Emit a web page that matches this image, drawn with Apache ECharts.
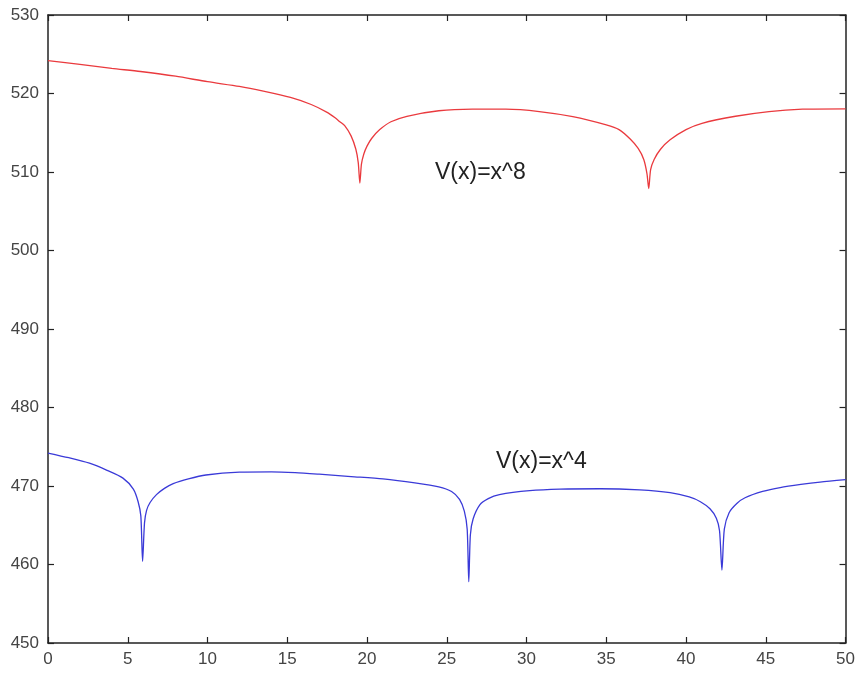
<!DOCTYPE html>
<html>
<head>
<meta charset="utf-8">
<script src="https://cdn.jsdelivr.net/npm/echarts@6/dist/echarts.min.js"></script>
<style>
  html, body { margin: 0; padding: 0; background: #fff; }
  #chart { width: 858px; height: 673px; }
</style>
</head>
<body>
<div id="chart"></div>
<script>
// Potential V(x) = x^8 curve
const x8X = [0, 2, 4, 5.8, 8, 10, 12, 13.5, 15.2, 16.5, 17.5, 18.0, 18.3, 18.6, 19.0, 19.3, 19.45, 19.55,
  19.65, 19.8, 20.0, 20.3, 20.8, 21.5, 22.5, 24.5, 26.6, 28.7, 30.8, 32.9, 35.0, 35.8, 36.5, 37.0, 37.35, 37.55, 37.66,
  37.78, 38.0, 38.4, 39.0, 40.0, 41.0, 43.1, 45.2, 47.3, 50];
const x8Y = [524.2, 523.7, 523.2, 522.8, 522.2, 521.5, 520.9, 520.3, 519.5, 518.6, 517.6, 516.9, 516.4, 515.9, 514.6, 512.9, 511.2, 508.6,
  511.0, 512.3, 513.3, 514.3, 515.4, 516.4, 517.1, 517.8, 518.0, 518.0, 517.7, 517.05, 516.0, 515.4, 514.2, 513.0, 511.6, 509.8, 507.9,
  510.3, 511.6, 512.9, 514.1, 515.4, 516.2, 517.1, 517.7, 518.0, 518.05];

// Potential V(x) = x^4 curve
const x4X = [0, 1.3, 2.6, 3.7, 4.7, 5.35, 5.65, 5.82, 5.93, 6.05, 6.18, 6.4, 6.8, 7.3, 7.85, 8.8, 9.9, 12, 14, 15.5, 17,
  19, 21, 23, 24.5, 25.3, 25.8, 26.1, 26.28, 26.38, 26.48, 26.65, 27.07, 27.6, 28.3, 30.2, 32.1, 34.6, 37.1, 39.0, 40.2,
  40.9, 41.5, 41.9, 42.1, 42.25, 42.4, 42.7, 43.2, 43.7, 44.8, 45.9, 47.2, 48.4, 50];
const x4Y = [474.2, 473.6, 472.9, 472.0, 471.0, 469.6, 468.0, 466.2, 460.4, 465.3, 466.9, 467.9, 468.9, 469.7, 470.3, 470.9, 471.4, 471.76, 471.8, 471.7, 471.5,
  471.2, 470.9, 470.4, 469.9, 469.3, 468.3, 466.8, 464.5, 457.8, 463.8, 465.8, 467.6, 468.4, 468.9, 469.4, 469.6, 469.65, 469.5, 469.15, 468.6,
  468.0, 467.1, 465.9, 464.3, 459.3, 464.5, 466.6, 467.8, 468.5, 469.3, 469.8, 470.2, 470.5, 470.8];

const xTicks = [0, 5, 10, 15, 20, 25, 30, 35, 40, 45, 50];
const yTicks = [450, 460, 470, 480, 490, 500, 510, 520, 530];

const curveLabels = ['V(x)=x^8', 'V(x)=x^4'];

const pairs = (xs, ys) => xs.map((x, i) => [x, ys[i]]);

const axisLine = { show: true, onZero: false, lineStyle: { color: '#222', width: 1.5 } };
const tickIn = { show: true, inside: true, length: 6, lineStyle: { color: '#222', width: 1.2 } };
const labelFont = { color: '#444', fontSize: 17, fontFamily: 'Liberation Sans, Arial, sans-serif' };

const chart = echarts.init(document.getElementById('chart'), null, { renderer: 'canvas' });
chart.setOption({
  animation: false,
  backgroundColor: '#fff',
  grid: { left: 48, right: 12, top: 15, bottom: 30, containLabel: false },
  xAxis: [
    {
      type: 'value', position: 'bottom',
      min: xTicks[0], max: xTicks[xTicks.length - 1], interval: 5,
      axisLine: axisLine, axisTick: tickIn, splitLine: { show: false },
      axisLabel: Object.assign({ margin: 8 }, labelFont)
    },
    {
      type: 'value', position: 'top',
      min: xTicks[0], max: xTicks[xTicks.length - 1], interval: 5,
      axisLine: axisLine, axisTick: tickIn, splitLine: { show: false },
      axisLabel: { show: false }
    }
  ],
  yAxis: [
    {
      type: 'value', position: 'left',
      min: yTicks[0], max: yTicks[yTicks.length - 1], interval: 10,
      axisLine: axisLine, axisTick: tickIn, splitLine: { show: false },
      axisLabel: Object.assign({ margin: 9 }, labelFont)
    },
    {
      type: 'value', position: 'right',
      min: yTicks[0], max: yTicks[yTicks.length - 1], interval: 10,
      axisLine: axisLine, axisTick: tickIn, splitLine: { show: false },
      axisLabel: { show: false }
    }
  ],
  series: [
    {
      name: curveLabels[0], type: 'line', xAxisIndex: 0, yAxisIndex: 0,
      data: pairs(x8X, x8Y), showSymbol: false, smooth: 0.25,
      lineStyle: { color: '#ea3a3e', width: 1.3 }
    },
    {
      name: curveLabels[1], type: 'line', xAxisIndex: 0, yAxisIndex: 0,
      data: pairs(x4X, x4Y), showSymbol: false, smooth: 0.25,
      lineStyle: { color: '#3a3ad8', width: 1.3 }
    }
  ],
  graphic: [
    {
      type: 'text', left: 435, top: 161,
      style: { text: curveLabels[0], fill: '#222', font: '23px "Liberation Sans", Arial, sans-serif' }
    },
    {
      type: 'text', left: 496, top: 450,
      style: { text: curveLabels[1], fill: '#222', font: '23px "Liberation Sans", Arial, sans-serif' }
    }
  ]
});
</script>
</body>
</html>
